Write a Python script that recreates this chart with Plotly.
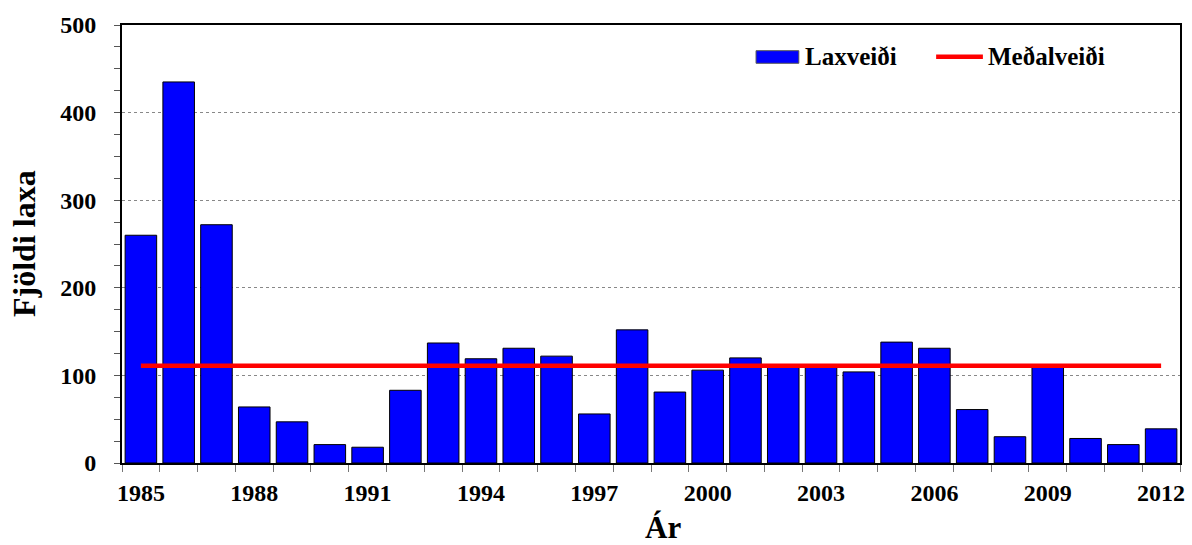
import plotly.graph_objects as go

# Annual salmon catch (Laxveiði) per year and the long-term average catch
years = list(range(1985, 2013))
catch = [260, 435, 272, 64, 47, 21, 18, 83, 137, 119,
         131, 122, 56, 152, 81, 106, 120, 110, 111, 104,
         138, 131, 61, 30, 112, 28, 21, 39]
mean_catch = 111
tick_years = [1985, 1988, 1991, 1994, 1997, 2000, 2003, 2006, 2009, 2012]

FONT = "Liberation Serif"

fig = go.Figure()

fig.add_trace(go.Bar(
    x=years, y=catch, name="Laxveiði",
    marker=dict(color="#0000FF", line=dict(color="black", width=1)),
    showlegend=False,
))

fig.add_trace(go.Scatter(
    x=years, y=[mean_catch] * len(years), name="Meðalveiði",
    mode="lines", line=dict(color="#FF0000", width=4.5),
    showlegend=False,
))

# Legend drawn as shapes + labels inside the plot area (paper coordinates)
fig.add_shape(type="rect", xref="paper", yref="paper",
              x0=0.5993, x1=0.6397, y0=0.9126, y1=0.9413,
              fillcolor="#0000FF", line=dict(color="#555555", width=1))
fig.add_shape(type="line", xref="paper", yref="paper",
              x0=0.7695, x1=0.8137, y0=0.9276, y1=0.9276,
              line=dict(color="#FF0000", width=4.5))
fig.add_annotation(xref="paper", yref="paper", x=0.6441, y=0.927,
                   xanchor="left", yanchor="middle", showarrow=False,
                   text="<b>Laxveiði</b>", font=dict(family=FONT, size=25, color="black"))
fig.add_annotation(xref="paper", yref="paper", x=0.8166, y=0.927,
                   xanchor="left", yanchor="middle", showarrow=False,
                   text="<b>Meðalveiði</b>", font=dict(family=FONT, size=25, color="black"))

# Axis titles
fig.add_annotation(xref="paper", yref="paper", x=0, y=0.5, xshift=-98,
                   xanchor="center", yanchor="middle", textangle=-90, showarrow=False,
                   text="<b>Fjöldi laxa</b>", font=dict(family=FONT, size=32, color="black"))
fig.add_annotation(xref="paper", yref="paper", x=0.5, y=0, xshift=12, yshift=-45,
                   xanchor="center", yanchor="top", showarrow=False,
                   text="<b>Ár</b>", font=dict(family=FONT, size=31, color="black"))

fig.update_layout(
    width=1192, height=545,
    margin=dict(l=122, r=7, t=25, b=82, pad=0),
    paper_bgcolor="white", plot_bgcolor="white",
    bargap=0.165,
    font=dict(family=FONT, size=24, color="black"),
)

fig.update_xaxes(
    range=[1984.5, 2012.5],
    tickmode="array", tickvals=tick_years,
    ticktext=[f"<b>{y}</b>" for y in tick_years],
    ticks="", showgrid=False, zeroline=False,
    showline=True, linecolor="black", linewidth=2, mirror=True,
    ticklabelstandoff=7,
    tickfont=dict(family=FONT, size=24, color="black"),
    minor=dict(tick0=1984.5, dtick=1, ticks="outside", ticklen=7,
               tickcolor="#777777", tickwidth=1, showgrid=False),
)

fig.update_yaxes(
    range=[0, 500], tickmode="array", tickvals=[0, 100, 200, 300, 400, 500],
    ticktext=[f"<b>{v}</b>" for v in [0, 100, 200, 300, 400, 500]],
    ticks="outside", ticklen=6, tickcolor="#555555", tickwidth=1,
    showgrid=True, gridcolor="#888888", griddash="dot", gridwidth=1,
    zeroline=False,
    showline=True, linecolor="black", linewidth=2, mirror=True,
    ticklabelstandoff=13,
    tickfont=dict(family=FONT, size=24, color="black"),
    minor=dict(dtick=25, tick0=0, ticks="outside", ticklen=6,
               tickcolor="#555555", tickwidth=1, showgrid=False),
)

fig.write_html("out.html")
